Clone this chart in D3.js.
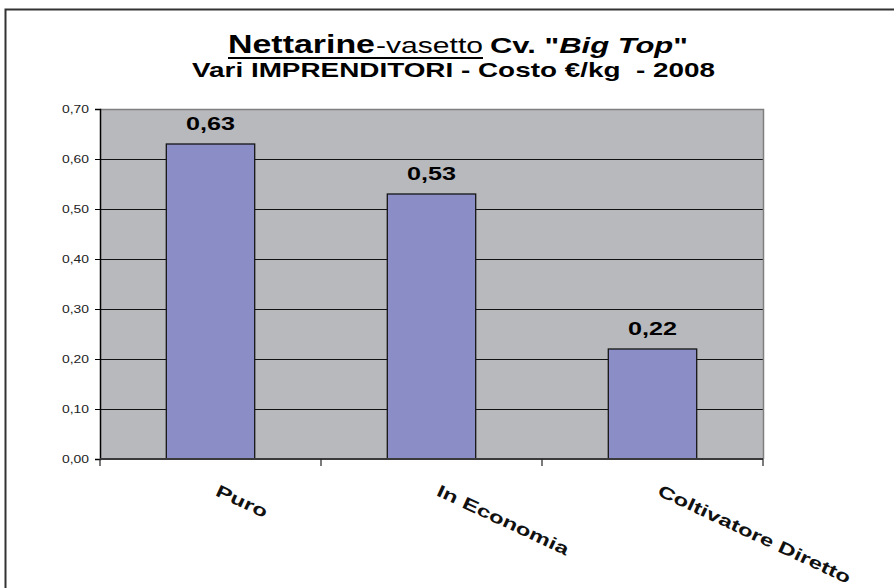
<!DOCTYPE html>
<html lang="it">
<head>
<meta charset="UTF-8">
<title>Nettarine - vasetto</title>
<script src="https://d3js.org/d3.v7.min.js"></script>
<style>
    html, body { margin: 0; padding: 0; background: #fff; }
    svg { display: block; }
    text { font-family: "Liberation Sans", Arial, sans-serif; }
</style>
</head>
<body>
<svg id="chart" width="894" height="588"></svg>
<script>
// data
const categories = ["Puro", "In Economia", "Coltivatore Diretto"];
const costs = [0.63, 0.53, 0.22];
const yTicks = [0, 0.1, 0.2, 0.3, 0.4, 0.5, 0.6, 0.7];

const svg = d3.select("#chart");

// italian number format (comma as decimal separator)
const it = d3.formatLocale({ decimal: ",", thousands: ".", grouping: [3], currency: ["€", ""] });
const fmt = it.format(".2f");

// outer frame (only left and top edges are visible)
svg.append("rect")
    .attr("x", 5.5).attr("y", 9.5)
    .attr("width", 950).attr("height", 650)
    .attr("fill", "#fff")
    .attr("stroke", "#333").attr("stroke-width", 2);

// plot area
const plot = { left: 100, right: 763, top: 109, bottom: 459 };

const x = d3.scaleBand()
    .domain(categories)
    .range([plot.left, plot.right])
    .padding(0);

const y = d3.scaleLinear()
    .domain([0, 0.7])
    .range([plot.bottom, plot.top]);

svg.append("rect")
    .attr("x", plot.left).attr("y", plot.top)
    .attr("width", plot.right - plot.left)
    .attr("height", plot.bottom - plot.top)
    .attr("fill", "#b8b9bd");

// gridlines
svg.append("g")
    .selectAll("line")
    .data(yTicks.filter(d => d > 0 && d < 0.7))
    .join("line")
    .attr("x1", plot.left).attr("x2", plot.right)
    .attr("y1", d => Math.round(y(d)) + 0.5).attr("y2", d => Math.round(y(d)) + 0.5)
    .attr("stroke", "#111").attr("stroke-width", 1);

// top and right border of plot area
svg.append("path")
    .attr("d", `M${plot.left},${plot.top + 0.5}H${plot.right + 0.5}V${plot.bottom}`)
    .attr("fill", "none")
    .attr("stroke", "#7f7f7f").attr("stroke-width", 1.5);

// bars
const barW = x.bandwidth() * 0.4;
svg.append("g")
    .selectAll("rect")
    .data(categories.map((c, i) => ({ cat: c, value: costs[i] })))
    .join("rect")
    .attr("x", d => x(d.cat) + (x.bandwidth() - barW) / 2)
    .attr("y", d => y(d.value))
    .attr("width", barW)
    .attr("height", d => y(0) - y(d.value))
    .attr("fill", "#8b8ec6")
    .attr("stroke", "#151515").attr("stroke-width", 1.3);

// value labels
svg.append("g")
    .selectAll("text")
    .data(categories.map((c, i) => ({ cat: c, value: costs[i] })))
    .join("text")
    .attr("x", d => x(d.cat) + x.bandwidth() / 2)
    .attr("y", d => y(d.value) - 14)
    .attr("text-anchor", "middle")
    .attr("font-size", 19)
    .attr("font-weight", "bold")
    .attr("textLength", 49)
    .attr("lengthAdjust", "spacingAndGlyphs")
    .text(d => fmt(d.value));

// y axis
const yAxis = svg.append("g")
    .attr("transform", `translate(${plot.left},0)`)
    .call(d3.axisLeft(y).tickValues(yTicks).tickSize(5).tickPadding(6).tickFormat(fmt));
yAxis.select(".domain").attr("stroke", "#000").attr("stroke-width", 1.5);
yAxis.selectAll(".tick line").attr("stroke", "#000");
yAxis.selectAll(".tick text")
    .attr("font-size", 11.5)
    .attr("font-family", "'Liberation Sans', Arial, sans-serif")
    .attr("fill", "#222")
    .attr("textLength", 27)
    .attr("lengthAdjust", "spacingAndGlyphs");

// x axis line and ticks at band edges
svg.append("line")
    .attr("x1", plot.left).attr("x2", plot.right)
    .attr("y1", plot.bottom).attr("y2", plot.bottom)
    .attr("stroke", "#3a3a3a").attr("stroke-width", 2);

const edges = [plot.left].concat(categories.map(c => x(c) + x.bandwidth()));
svg.append("g")
    .selectAll("line")
    .data(edges)
    .join("line")
    .attr("x1", d => d).attr("x2", d => d)
    .attr("y1", plot.bottom).attr("y2", plot.bottom + 7)
    .attr("stroke", "#222").attr("stroke-width", 1.2);

// category labels, rotated
const labelStretch = 1.42;
svg.append("g")
    .selectAll("text")
    .data(categories)
    .join("text")
    .attr("transform", d => `translate(${x(d) + x.bandwidth() / 2 + 4},495) rotate(25)`)
    .attr("font-size", 17)
    .attr("font-weight", "bold")
    .attr("fill", "#111")
    .text(d => d)
    .each(function () {
        const w = this.getComputedTextLength();
        d3.select(this).attr("textLength", w * labelStretch).attr("lengthAdjust", "spacingAndGlyphs");
    });

// title
const title = svg.append("g");
title.append("text")
    .attr("x", 228).attr("y", 53)
    .attr("font-size", 25).attr("font-weight", "bold")
    .attr("textLength", 147).attr("lengthAdjust", "spacingAndGlyphs")
    .text("Nettarine");
title.append("text")
    .attr("x", 376).attr("y", 53)
    .attr("font-size", 22)
    .attr("textLength", 107).attr("lengthAdjust", "spacingAndGlyphs")
    .text("-vasetto");
title.append("line")
    .attr("x1", 228).attr("x2", 483)
    .attr("y1", 58).attr("y2", 58)
    .attr("stroke", "#000").attr("stroke-width", 2);

const cv = title.append("text")
    .attr("x", 490).attr("y", 53)
    .attr("font-size", 22).attr("font-weight", "bold")
    .attr("textLength", 198).attr("lengthAdjust", "spacingAndGlyphs");
cv.append("tspan").text("Cv. \"");
cv.append("tspan").attr("font-style", "italic").text("Big Top");
cv.append("tspan").text("\"");

title.append("text")
    .attr("x", 192).attr("y", 77)
    .attr("font-size", 21).attr("font-weight", "bold")
    .attr("textLength", 523).attr("lengthAdjust", "spacingAndGlyphs")
    .attr("xml:space", "preserve")
    .text("Vari IMPRENDITORI - Costo €/kg  - 2008");
</script>
</body>
</html>
